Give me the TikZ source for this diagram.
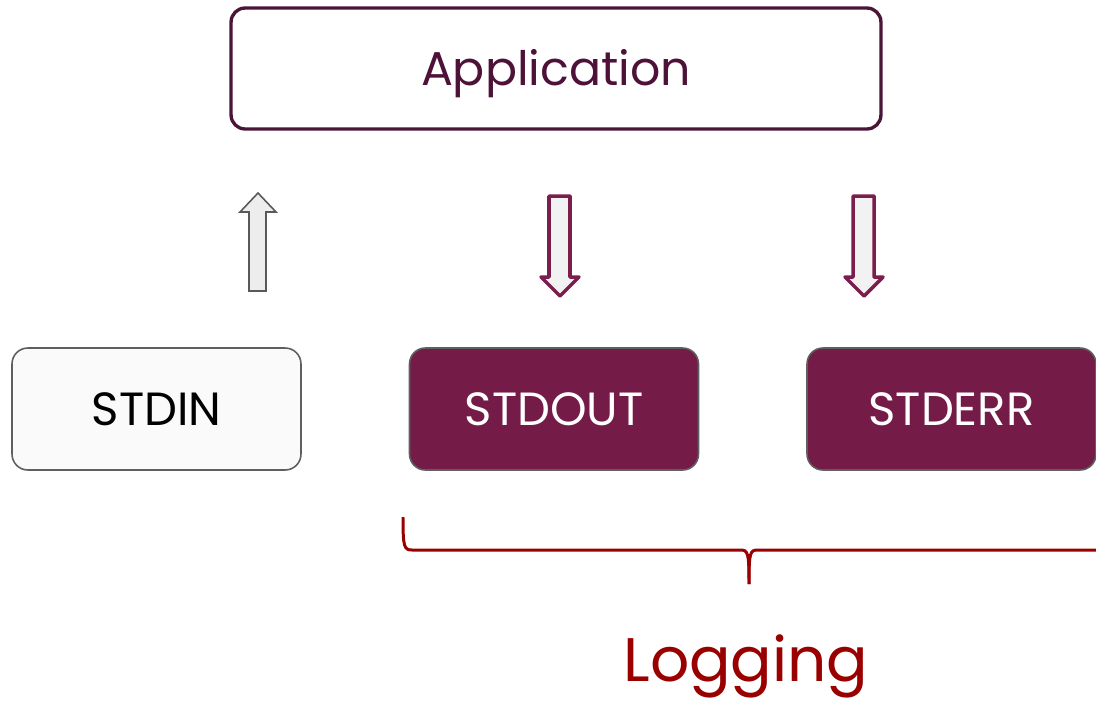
\documentclass[tikz,border=0pt]{standalone}
\usepackage{fontspec}
\setmainfont{Poppins}
\usetikzlibrary{positioning}
\definecolor{plumdark}{HTML}{4A1538}
\definecolor{plumtext}{HTML}{4E1239}
\definecolor{plumfill}{HTML}{741C47}
\definecolor{plumarrow}{HTML}{7B1E4E}
\definecolor{boxgray}{HTML}{5F5F5F}
\definecolor{logred}{HTML}{990000}

\begin{document}
\begin{tikzpicture}[
    x=0.02cm, y=-0.02cm,
    stream/.style={draw=boxgray, line width=0.9pt, rounded corners=9pt, minimum width=5.78cm, minimum height=2.44cm, font=\fontsize{26.5}{30}\selectfont, text height=19pt},
    app/.style={draw=plumdark, line width=1.9pt, rounded corners=8pt, fill=white, minimum width=13cm, minimum height=2.42cm, text=plumtext, font=\fontsize{27}{30}\selectfont, text height=19.4pt},
    uparrow/.style={draw=black!65, line width=0.9pt, fill=black!7},
    downarrow/.style={draw=plumarrow, line width=2pt, fill=black!5, line join=round},
    brace/.style={draw=logred, line width=1.7pt},
    every node/.style={align=center, inner sep=0pt, text depth=0pt}
  ]
  \useasboundingbox (0,0) rectangle (1096,701);

  % Top box
  \node[app] (app) at (556,68.5) {Application};

  % Streams
  \node[stream, fill=black!2, text=black] (stdin) at (156.5,409) {STDIN};
  \node[stream, fill=plumfill, text=white] (stdout) at (554,409) {STDOUT};
  \node[stream, fill=plumfill, text=white] (stderr) at (951.5,409) {STDERR};

  % Block arrows
  \draw[uparrow] (249,291) -- (249,212) -- (240,212) -- (258,193) -- (276,212) -- (266,212) -- (266,291) -- cycle;
  \draw[downarrow] (549,196) -- (549,277) -- (541,277) -- (560,296) -- (579,277) -- (570,277) -- (570,196) -- cycle;
  \draw[downarrow] (853,196) -- (853,277) -- (845,277) -- (864,296) -- (883,277) -- (874,277) -- (874,196) -- cycle;

  % Brace under stdout and stderr
  \draw[brace] (403,517) .. controls (403,547) and (404,550) .. (412,550) -- (740,550)
    .. controls (748,550) and (749,552) .. (749,584);
  \draw[brace] (749,584) .. controls (749,552) and (750,550) .. (758,550) -- (1096,550);

  % Label
  \node[text=logred, font=\fontsize{35}{40}\selectfont, text height=25pt] (logging) at (746,660) {Logging};
\end{tikzpicture}
\end{document}
